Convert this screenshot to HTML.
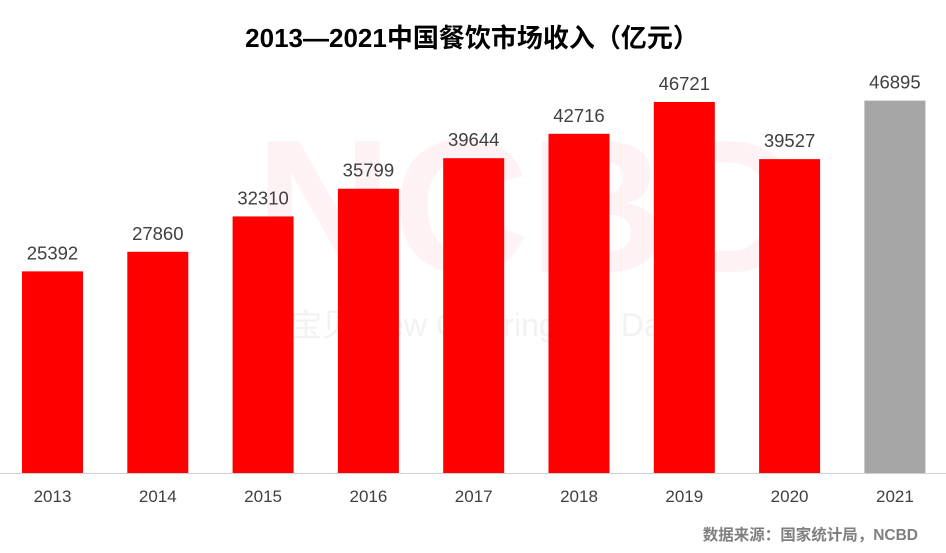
<!DOCTYPE html>
<html><head><meta charset="utf-8"><style>
body{margin:0;background:#fff;width:946px;height:548px;overflow:hidden;font-family:"Liberation Sans","Noto Sans CJK SC",sans-serif;}
</style></head><body>
<svg id="c" width="946" height="548" xmlns="http://www.w3.org/2000/svg">
<text x="472" y="47" text-anchor="middle" font-size="26" font-weight="bold" fill="#000" font-family="Liberation Sans,Noto Sans CJK SC,sans-serif">2013—2021中国餐饮市场收入（亿元）</text>
<text x="255" y="272" font-size="190" font-weight="bold" fill="#fef2f5" font-family="Liberation Sans,sans-serif">NCBD</text>
<text x="290" y="336" font-size="32" fill="#f2f2f2" font-family="Liberation Sans,Noto Sans CJK SC,sans-serif">宝贝 New Catering Big Data</text>
<g id="bars"></g>
<line x1="0" y1="473.5" x2="946" y2="473.5" stroke="#d0d0d0" stroke-width="1"/>
<text x="918" y="540" text-anchor="end" font-size="15.5" font-weight="bold" fill="#7f7f7f" font-family="Liberation Sans,Noto Sans CJK SC,sans-serif">数据来源：国家统计局，NCBD</text>
</svg>
<script>
const categories=["2013","2014","2015","2016","2017","2018","2019","2020","2021"];
const values=[25392,27860,32310,35799,39644,42716,46721,39527,46895];
const colors=["#ff0000","#ff0000","#ff0000","#ff0000","#ff0000","#ff0000","#ff0000","#ff0000","#a6a6a6"];
const base=473, scale=371/46721;
const y=v=>base-v*scale;
const xc=i=>52.5+i*105.3;
const bw=61;
const g=document.getElementById('bars');
const NS="http://www.w3.org/2000/svg";
categories.forEach((c,i)=>{
  const r=document.createElementNS(NS,'rect');
  r.setAttribute('x',xc(i)-bw/2);r.setAttribute('y',y(values[i]));
  r.setAttribute('width',bw);r.setAttribute('height',base-y(values[i]));
  r.setAttribute('fill',colors[i]);
  
  
  g.appendChild(r);
  const t=document.createElementNS(NS,'text');
  t.setAttribute('x',xc(i));t.setAttribute('y',y(values[i])-12);
  t.setAttribute('text-anchor','middle');t.setAttribute('font-size','18.5');t.setAttribute('fill','#404040');
  t.textContent=values[i];
  
  
  g.appendChild(t);
  const l=document.createElementNS(NS,'text');
  l.setAttribute('x',xc(i));l.setAttribute('y',502);
  l.setAttribute('text-anchor','middle');l.setAttribute('font-size','17');l.setAttribute('fill','#404040');
  l.textContent=c;
  
  
  g.appendChild(l);
});
</script>
</body></html>
